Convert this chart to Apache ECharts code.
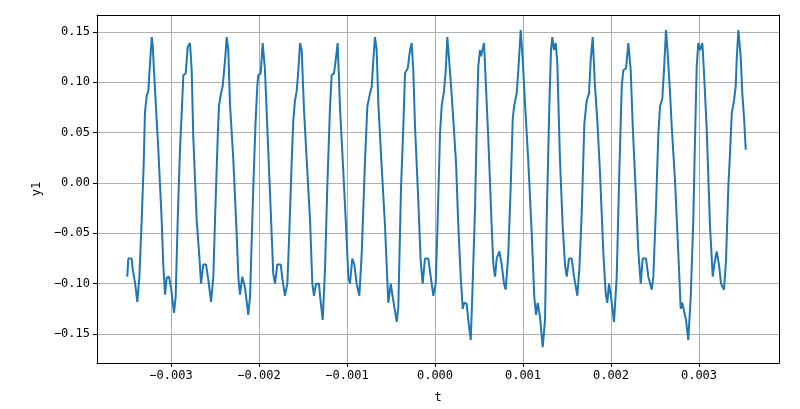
<!DOCTYPE html>
<html><head><meta charset="utf-8">
<script src="https://cdn.jsdelivr.net/npm/echarts@6/dist/echarts.min.js"></script>
<style>html,body{margin:0;padding:0;background:#fff}#c{width:800px;height:409px}</style>
</head><body><div id="c"></div>
<script>
// time in microseconds
const tMicro = [-3497,-3485,-3447,-3435,-3409,-3383,-3360,-3333,-3310,-3296,-3276,-3258,-3247,-3219,-3208,-3190,-3163,-3144,-3106,-3088,-3068,-3049,-3023,-3000,-2966,-2947,-2924,-2898,-2872,-2860,-2833,-2810,-2784,-2765,-2747,-2708,-2678,-2659,-2633,-2602,-2576,-2545,-2519,-2500,-2469,-2455,-2432,-2413,-2386,-2367,-2349,-2330,-2292,-2254,-2235,-2216,-2190,-2159,-2122,-2102,-2065,-2038,-2019,-2008,-1981,-1958,-1932,-1906,-1875,-1838,-1818,-1792,-1753,-1735,-1705,-1678,-1656,-1628,-1610,-1591,-1572,-1553,-1534,-1515,-1489,-1458,-1420,-1394,-1375,-1352,-1318,-1307,-1276,-1250,-1224,-1193,-1174,-1148,-1128,-1106,-1080,-1049,-1011,-985,-966,-940,-917,-890,-860,-833,-795,-769,-739,-719,-701,-682,-663,-644,-606,-568,-531,-503,-481,-435,-417,-386,-360,-341,-310,-284,-265,-247,-227,-190,-163,-140,-114,-76,-49,-19,8,26,57,76,102,122,140,178,208,239,265,292,315,330,360,378,406,428,455,474,492,511,523,538,557,576,606,625,644,663,682,701,731,758,784,803,833,860,883,898,928,947,974,997,1023,1061,1099,1128,1148,1167,1193,1224,1250,1269,1299,1318,1333,1352,1372,1390,1420,1451,1477,1497,1523,1553,1580,1617,1640,1667,1697,1724,1750,1769,1792,1818,1844,1875,1913,1940,1958,1977,2000,2034,2065,2094,2122,2140,2171,2197,2224,2247,2284,2310,2338,2360,2398,2424,2463,2481,2511,2538,2557,2583,2602,2625,2644,2671,2690,2727,2765,2792,2810,2830,2852,2878,2906,2935,2955,2974,2992,3011,3038,3057,3088,3125,3156,3174,3201,3227,3250,3284,3307,3333,3352,3372,3398,3417,3428,3447,3474,3492,3511,3531];
const y1 = [-0.093,-0.075,-0.075,-0.086,-0.099,-0.118,-0.094,-0.037,0.020,0.070,0.087,0.091,0.107,0.145,0.137,0.106,0.063,0.033,-0.037,-0.081,-0.111,-0.094,-0.093,-0.104,-0.129,-0.113,-0.037,0.033,0.082,0.107,0.109,0.135,0.139,0.112,0.046,-0.037,-0.073,-0.100,-0.081,-0.081,-0.096,-0.118,-0.093,-0.037,0.046,0.077,0.089,0.096,0.122,0.145,0.132,0.079,0.023,-0.050,-0.093,-0.111,-0.093,-0.104,-0.131,-0.113,-0.004,0.063,0.097,0.107,0.109,0.139,0.112,0.056,-0.010,-0.090,-0.100,-0.081,-0.081,-0.095,-0.112,-0.100,-0.050,0.023,0.063,0.082,0.091,0.112,0.139,0.132,0.073,0.023,-0.037,-0.100,-0.112,-0.100,-0.100,-0.112,-0.136,-0.086,-0.004,0.076,0.107,0.109,0.122,0.139,0.076,0.023,-0.043,-0.093,-0.100,-0.075,-0.081,-0.100,-0.112,-0.070,0.023,0.076,0.089,0.096,0.122,0.145,0.132,0.079,0.016,-0.043,-0.119,-0.100,-0.113,-0.138,-0.123,-0.004,0.056,0.109,0.114,0.132,0.139,0.112,0.056,-0.017,-0.077,-0.100,-0.075,-0.075,-0.093,-0.112,-0.100,-0.050,0.049,0.077,0.091,0.112,0.145,0.102,0.063,0.020,-0.043,-0.093,-0.125,-0.119,-0.120,-0.136,-0.156,-0.100,-0.024,0.056,0.116,0.132,0.126,0.132,0.139,0.102,0.043,0.000,-0.043,-0.081,-0.093,-0.075,-0.068,-0.081,-0.100,-0.106,-0.070,-0.004,0.063,0.076,0.089,0.112,0.152,0.122,0.079,0.020,-0.050,-0.113,-0.131,-0.119,-0.133,-0.163,-0.136,-0.037,0.076,0.132,0.145,0.132,0.139,0.119,0.023,-0.043,-0.081,-0.093,-0.075,-0.075,-0.093,-0.112,-0.086,-0.030,0.059,0.082,0.089,0.122,0.145,0.096,0.063,0.010,-0.070,-0.110,-0.119,-0.100,-0.113,-0.138,-0.093,0.010,0.096,0.112,0.114,0.139,0.112,0.056,-0.014,-0.067,-0.100,-0.075,-0.075,-0.093,-0.106,-0.093,-0.024,0.049,0.076,0.084,0.112,0.152,0.129,0.089,0.056,0.003,-0.070,-0.125,-0.119,-0.120,-0.136,-0.156,-0.113,-0.037,0.046,0.116,0.139,0.132,0.139,0.109,0.053,-0.043,-0.093,-0.081,-0.068,-0.081,-0.100,-0.106,-0.077,-0.004,0.029,0.069,0.082,0.096,0.122,0.152,0.125,0.089,0.066,0.033];
const xTicks = [-0.003,-0.002,-0.001,0,0.001,0.002,0.003];
const yTicks = [-0.15,-0.10,-0.05,0,0.05,0.10,0.15];

const pts = tMicro.map((t,i)=>[t/1e6, y1[i]]);
const fmtX = v => (v<0?'\u2212':'') + Math.abs(v).toFixed(3);
const fmtY = v => (v<-1e-9?'\u2212':'') + Math.abs(v).toFixed(2);
const font = '"DejaVu Sans Mono", monospace';
const XMIN=-0.003841, XMAX=0.003909, YMIN=-0.1788, YMAX=0.1669;
const frame = {type:'value',axisLine:{show:true,onZero:false,lineStyle:{color:'#000',width:1}},
  axisTick:{show:false},axisLabel:{show:false},splitLine:{show:false}};
const chart = echarts.init(document.getElementById('c'));
chart.setOption({
  animation:false,
  grid:{left:97,right:21,top:15,bottom:46},
  xAxis:[{type:'value',min:XMIN,max:XMAX,name:'t',nameLocation:'middle',nameGap:29,
    nameTextStyle:{color:'#000',fontSize:12,fontFamily:font},
    axisLine:{show:true,onZero:false,lineStyle:{color:'#000',width:1}},
    axisTick:{show:true,inside:false,length:4,lineStyle:{color:'#000'},customValues:xTicks},
    axisLabel:{color:'#000',fontSize:12,fontFamily:font,margin:7,customValues:xTicks,formatter:fmtX},
    splitLine:{show:true,lineStyle:{color:'#b0b0b0',width:1}}},
    Object.assign({},frame,{position:'top',min:XMIN,max:XMAX})],
  yAxis:[{type:'value',min:YMIN,max:YMAX,name:'y1',nameLocation:'middle',nameGap:52,nameRotate:90,
    nameTextStyle:{color:'#000',fontSize:12,fontFamily:font},
    axisLine:{show:true,onZero:false,lineStyle:{color:'#000',width:1}},
    axisTick:{show:true,inside:false,length:4,lineStyle:{color:'#000'},customValues:yTicks},
    axisLabel:{color:'#000',fontSize:12,fontFamily:font,margin:7,customValues:yTicks,formatter:fmtY},
    splitLine:{show:true,lineStyle:{color:'#b0b0b0',width:1}}},
    Object.assign({},frame,{position:'right',min:YMIN,max:YMAX})],
  series:[{type:'line',data:pts,showSymbol:false,lineStyle:{color:'#1f77b4',width:2},itemStyle:{color:'#1f77b4'}}]
});
</script></body></html>
